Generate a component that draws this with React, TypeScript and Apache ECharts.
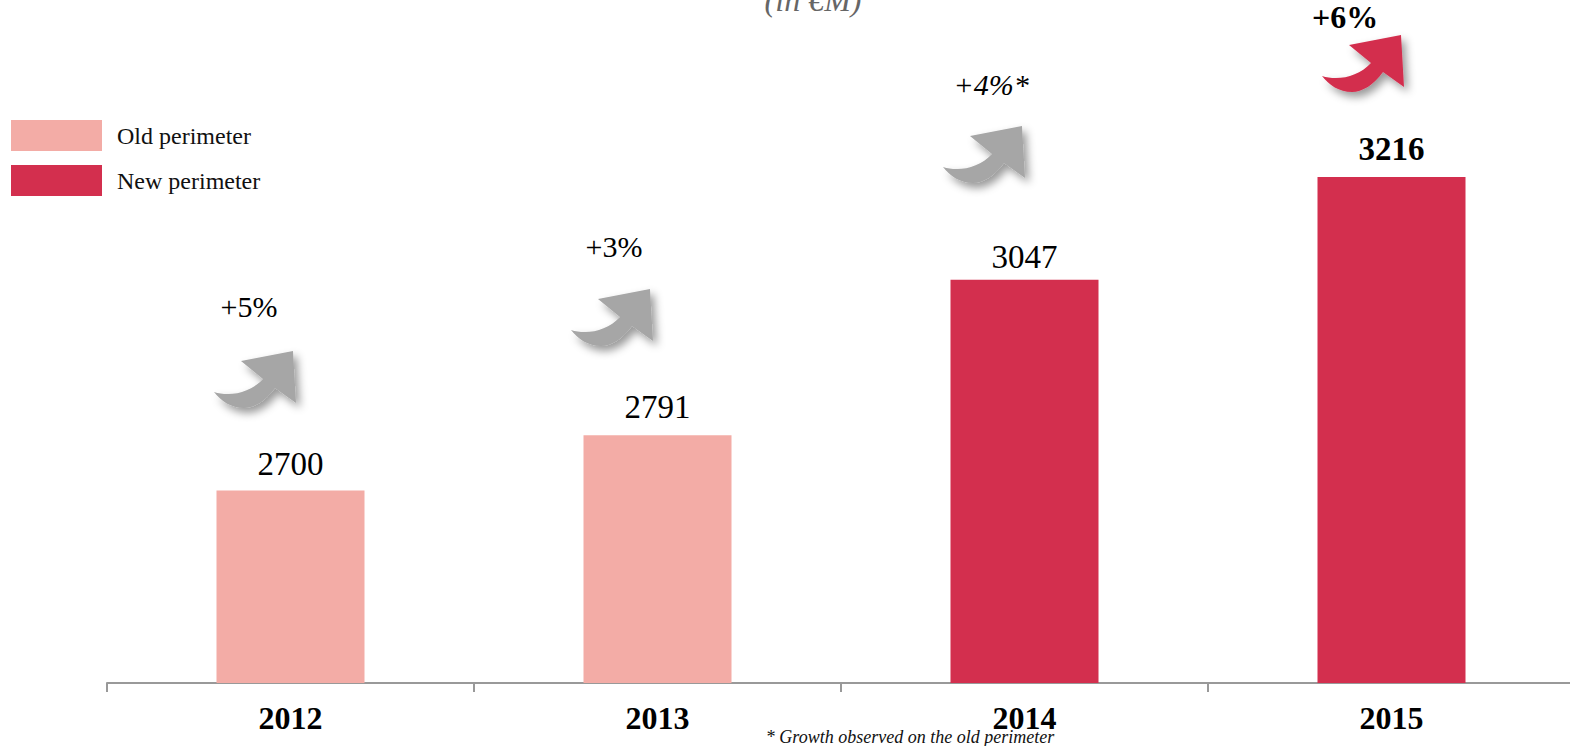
import React, { useEffect, useRef } from "react";
import * as echarts from "echarts";

const years = ["2012", "2013", "2014", "2015"];
const oldPerimeter = [2700, 2791, null, null];
const newPerimeter = [null, null, 3047, 3216];
const growthLabels = ["+5%", "+3%", "+4%*", "+6%"];

const RED = "#d32f4e";
const PINK = "#f3aca6";
const GREY = "#a6a6a6";
const SERIF = '"Liberation Serif", serif';

echarts.graphic.registerShape(
  "growthArrow",
  echarts.graphic.extendPath(
    "M0 41 C16 46 36 42 49 28 L27 10 L79 0 L82 52 L61 37 C52 50 40 57 30 57 C17 57 7 50 0 41 Z",
    {}
  )
);

// Curved arrow and growth text above each year
const callouts = [
  { arrowX: 214, arrowY: 351, textX: 249, textY: 306, color: GREY, size: 30, weight: "normal", fontStyle: "normal" },
  { arrowX: 571, arrowY: 289, textX: 614, textY: 246, color: GREY, size: 30, weight: "normal", fontStyle: "normal" },
  { arrowX: 943, arrowY: 126, textX: 991, textY: 84, color: GREY, size: 30, weight: "normal", fontStyle: "italic" },
  { arrowX: 1322, arrowY: 35, textX: 1345, textY: 17, color: RED, size: 32, weight: "bold", fontStyle: "normal" },
];

const valueLabel = (bold: boolean, shiftY = 0) => ({
  show: true,
  position: "top" as const,
  distance: 10,
  offset: [0, shiftY],
  fontFamily: SERIF,
  fontSize: 33,
  fontWeight: bold ? ("bold" as const) : ("normal" as const),
  color: "#000",
});

export default function App() {
  const ref = useRef<HTMLDivElement>(null);

  useEffect(() => {
    document.body.style.margin = "0";
    const chart = echarts.init(ref.current!, undefined, { renderer: "svg" });

    const graphic: any[] = [
      {
        type: "text",
        x: 813,
        y: 0,
        style: {
          text: "(in €M)",
          fontFamily: SERIF,
          fontStyle: "italic",
          fontSize: 32,
          fill: "#666",
          align: "center",
          verticalAlign: "middle",
        },
      },
      {
        type: "text",
        x: 910,
        y: 737,
        style: {
          text: "* Growth observed on the old perimeter",
          fontFamily: SERIF,
          fontStyle: "italic",
          fontSize: 18,
          fill: "#111",
          align: "center",
          verticalAlign: "middle",
        },
      },
    ];

    callouts.forEach((c, i) => {
      graphic.push({
        type: "growthArrow",
        x: c.arrowX,
        y: c.arrowY,
        style: {
          fill: c.color,
          shadowColor: "rgba(0,0,0,0.4)",
          shadowBlur: 9,
          shadowOffsetX: 4,
          shadowOffsetY: 5,
        },
      });
      graphic.push({
        type: "text",
        x: c.textX,
        y: c.textY,
        style: {
          text: growthLabels[i],
          fontFamily: SERIF,
          fontSize: c.size,
          fontWeight: c.weight,
          fontStyle: c.fontStyle,
          fill: "#000",
          align: "center",
          verticalAlign: "middle",
        },
      });
    });

    chart.setOption({
      animation: false,
      grid: { left: 107, top: 0, width: 1468, height: 683, outerBoundsMode: "none" },
      legend: {
        orient: "vertical",
        left: 6,
        top: 115,
        icon: "rect",
        itemWidth: 91,
        itemHeight: 31,
        itemGap: 14,
        selectedMode: false,
        textStyle: {
          fontFamily: SERIF,
          fontSize: 24,
          color: "#111",
          padding: [0, 0, 2, 10],
        },
      },
      xAxis: {
        type: "category",
        data: years,
        axisLine: { lineStyle: { color: "#999", width: 2 } },
        axisTick: { show: true, length: 9, lineStyle: { color: "#999", width: 2 } },
        axisLabel: {
          margin: 19,
          interval: 0,
          fontFamily: SERIF,
          fontSize: 32,
          fontWeight: "bold",
          color: "#000",
        },
      },
      yAxis: { type: "value", show: false, min: 2383, max: 3507.3, splitLine: { show: false } },
      series: [
        {
          name: "Old perimeter",
          type: "bar",
          stack: "perimeter",
          barWidth: 148,
          data: [
            { value: oldPerimeter[0] },
            { value: oldPerimeter[1], label: valueLabel(false, -2) },
            { value: oldPerimeter[2] },
            { value: oldPerimeter[3] },
          ],
          itemStyle: { color: PINK },
          label: valueLabel(false),
        },
        {
          name: "New perimeter",
          type: "bar",
          stack: "perimeter",
          barWidth: 148,
          data: [
            { value: newPerimeter[0] },
            { value: newPerimeter[1] },
            { value: newPerimeter[2], label: valueLabel(false, 4) },
            { value: newPerimeter[3], label: valueLabel(true, -1) },
          ],
          itemStyle: { color: RED },
          label: valueLabel(false),
        },
      ],
      graphic,
    });

    return () => chart.dispose();
  }, []);

  return <div ref={ref} style={{ width: 1570, height: 746 }} />;
}
